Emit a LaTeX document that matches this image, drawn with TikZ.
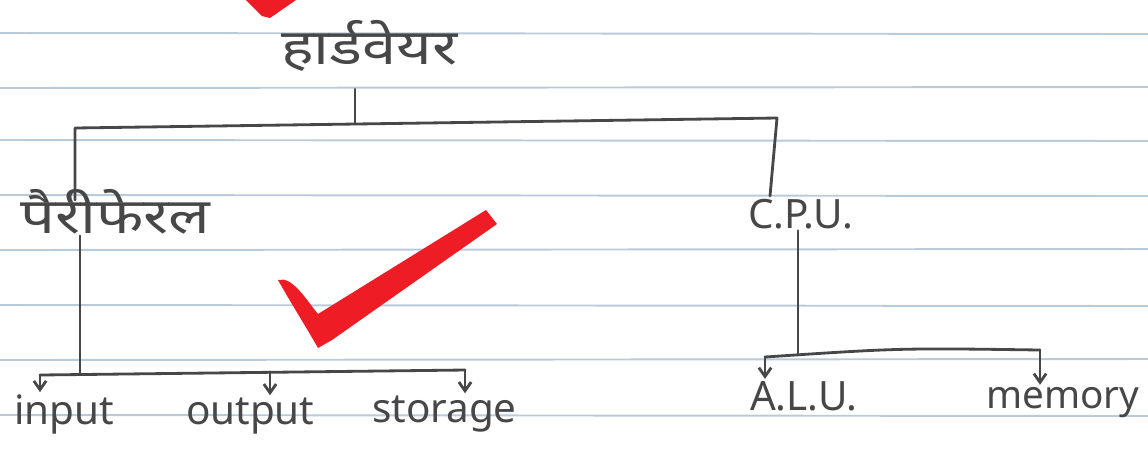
\documentclass[tikz,border=0pt]{standalone}
\usepackage{fontspec}
\setmainfont{Noto Sans}
\newfontfamily\deva[Script=Devanagari]{Noto Sans}
\usetikzlibrary{arrows.meta}
\definecolor{ink}{HTML}{474747}
\definecolor{rule}{HTML}{B9CAD9}
\definecolor{tick}{HTML}{EE1C24}
\newcommand{\widen}[1]{\scalebox{1.25}[1]{#1}}
\begin{document}
\begin{tikzpicture}[x=0.02cm,y=-0.02cm,
  pen/.style={draw=ink,line width=1.6pt,line cap=round,line join=round},
  arr/.style={pen,-{Straight Barb[length=5pt,width=7pt]}},
  dlabel/.style={text=ink,inner sep=1pt,font=\deva\fontsize{28}{32}\selectfont},
  elabel/.style={text=ink,inner sep=1pt,font=\fontsize{23}{27}\selectfont},
  ruled/.style={draw=rule,line width=1.1pt}]
\useasboundingbox[fill=white] (0,0) rectangle (1148,458);
% notebook rules
\foreach \y/\d in {33/1,88/-1,140/1,195/1,250/-1,305/1,360/-1,415/1}
  \draw[ruled] (0,\y) -- (1148,\y+\d);
% red ticks
\fill[tick] (246,0) -- (262,16) -- (270,18) -- (296,0) -- cycle;
\fill[tick] (278,280) .. controls (292,276) and (305,298) .. (318,314)
  -- (486,210) -- (497,224) -- (332,340) -- (318,348)
  .. controls (305,325) and (292,305) .. (278,280) -- cycle;
% labels
\node[dlabel,anchor=base west] (hw) at (279,64) {\widen{हार्डवेयर}};
\node[dlabel,anchor=base west] (per) at (18,233) {\widen{पैरीफेरल}};
\node[elabel,anchor=base west] (cpu) at (746,228) {C.P.U.};
\node[elabel,anchor=base west] (in) at (12,424) {input};
\node[elabel,anchor=base west] (out) at (184,424) {output};
\node[elabel,anchor=base west] (sto) at (370,422) {storage};
\node[elabel,anchor=base west] (alu) at (748,410) {A.L.U.};
\node[elabel,anchor=base west,font=\fontsize{22}{26}\selectfont] (mem) at (984,408) {memory};
% coordinates
\coordinate (hj) at (355,124);
\coordinate (bl) at (75,128);
\coordinate (br) at (777,118);
\coordinate (pl) at (75,200);
\coordinate (cl) at (770,196);
\coordinate (pj) at (80,373);
\coordinate (ia) at (40,375);
\coordinate (oa) at (270,372);
\coordinate (sa) at (465,370);
\coordinate (cj) at (798,355);
\coordinate (aa) at (765,357);
\coordinate (ma) at (1040,350);
% connectors
\draw[pen] (hw.south -| hj) ++(0,16) -- (hj);
\draw[pen] (pl) -- (bl) -- (br) -- (cl);
\draw[pen] (per.south -| pj) -- (pj);
\draw[pen] (ia) -- (sa);
\draw[arr] (ia) -- (ia |- in.north);
\draw[arr] (oa) -- (oa |- out.north);
\draw[arr] (sa) -- (sa |- sto.north);
\draw[pen] (cpu.south -| cj) -- (cj);
\draw[pen] (aa) .. controls (900,348) .. (ma);
\draw[arr] (aa) -- (aa |- alu.north);
\draw[arr] (ma) -- (ma |- mem.north);
\end{tikzpicture}
\end{document}
